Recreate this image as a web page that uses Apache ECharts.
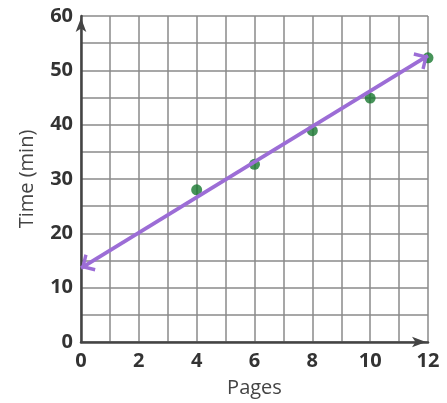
<!DOCTYPE html>
<html><head><meta charset="utf-8">
<script src="https://cdn.jsdelivr.net/npm/echarts@6/dist/echarts.min.js"></script>
<style>html,body{margin:0;padding:0;background:#fff}#c{width:447px;height:403px}</style>
</head><body><div id="c"></div>
<script>
const pages = [4, 6, 8, 10, 12];
const times = [28, 32.7, 38.9, 44.9, 52.3];
const fitX = [0, 12];
const fitY = [13.6, 52.7];
const xLabels = [0, 2, 4, 6, 8, 10, 12];
const yLabels = [0, 10, 20, 30, 40, 50, 60];

const chart = echarts.init(document.getElementById('c'));
// open chevron whose tip sits at the centre of its (square) bounding box
const chevron = 'path://M0,0 L10,10 L7.6,12.4 L0,4.8 L-7.6,12.4 L-10,10 Z ' +
  'M-13,-13 L-12.95,-13 L-13,-12.95 Z M13,13 L12.95,13 L13,12.95 Z';
chart.setOption({
  animation: false,
  grid: {left: 81, right: 19, top: 16, bottom: 61},
  xAxis: {
    type: 'value', min: 0, max: 12, interval: 1,
    name: 'Pages', nameLocation: 'middle', nameGap: 36,
    nameTextStyle: {fontFamily: 'Open Sans', fontSize: 20, color: '#444'},
    axisLine: {show: true, lineStyle: {color: '#444', width: 2.5}, symbol: ['none', 'arrow'], symbolSize: [8, 14], symbolOffset: [0, -2]},
    axisTick: {show: false},
    axisLabel: {
      fontFamily: 'Open Sans', fontSize: 20, fontWeight: 'bold', color: '#333', margin: 9,
      formatter: v => xLabels.includes(v) ? String(v) : ''
    },
    splitLine: {show: true, lineStyle: {color: '#8a8a8a', width: 1.5}}
  },
  yAxis: {
    type: 'value', min: 0, max: 60, interval: 5,
    name: 'Time (min)', nameLocation: 'middle', nameGap: 44, nameRotate: 90,
    nameTextStyle: {fontFamily: 'Open Sans', fontSize: 20, color: '#444'},
    axisLine: {show: true, lineStyle: {color: '#444', width: 2.5}, symbol: ['none', 'arrow'], symbolSize: [8, 14], symbolOffset: [0, -2]},
    axisTick: {show: false},
    axisLabel: {
      fontFamily: 'Open Sans', fontSize: 20, fontWeight: 'bold', color: '#333', margin: 8,
      formatter: v => yLabels.includes(v) ? String(v) : ''
    },
    splitLine: {show: true, lineStyle: {color: '#8a8a8a', width: 1.5}}
  },
  series: [{
    type: 'scatter',
    data: pages.map((p, i) => [p, times[i]]),
    symbolSize: 11,
    itemStyle: {color: '#18782f'},
    z: 2
  }, {
    type: 'line',
    data: [],
    z: 5,
    markLine: {
      silent: true,
      symbol: [chevron, chevron],
      symbolSize: 26,
      label: {show: false},
      lineStyle: {color: '#9c6dd6', width: 3.8, type: 'solid'},
      data: [[{coord: [fitX[0], fitY[0]]}, {coord: [fitX[1], fitY[1]]}]]
    }
  }]
});
</script></body></html>
